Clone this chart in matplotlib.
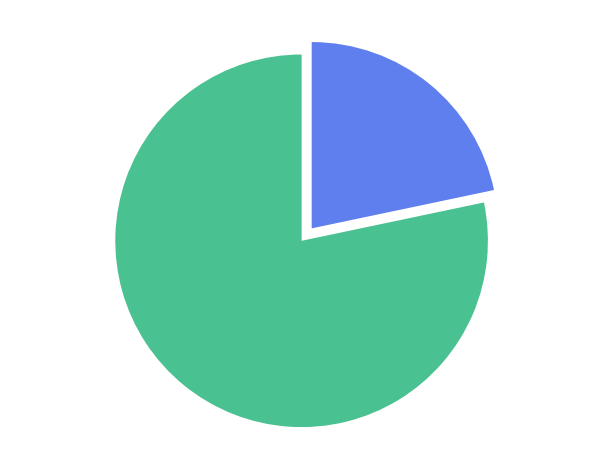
import matplotlib
matplotlib.use("Agg")
import matplotlib.pyplot as plt

# two slices, blue one pulled out
labels = ['A', 'B']
values = [21.7, 78.3]
colors = ['#5f7fee', '#4ac190']
explode = [0.086, 0]

fig = plt.figure(figsize=(6, 4.76), dpi=100)
ax = fig.add_axes([0, 0, 1, 1])
ax.pie(values, colors=colors, explode=explode, startangle=90,
       counterclock=False, radius=1, wedgeprops={'linewidth': 0})

# place the pie: centre ~ (301.6, 240.8) px, radius ~186.3 px
scale = 186.3
ax.set_aspect('auto')
ax.set_xlim(-301.6 / scale, (600 - 301.6) / scale)
ax.set_ylim(-(476 - 240.8) / scale, 240.8 / scale)
ax.axis('off')

fig.savefig('out.png', dpi=100)
